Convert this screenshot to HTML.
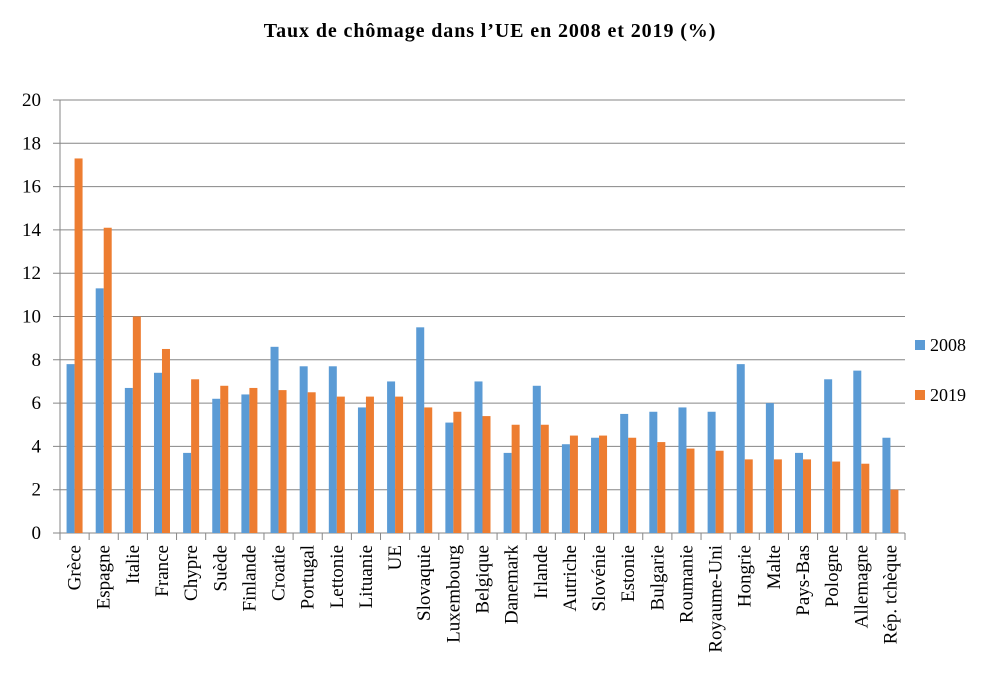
<!DOCTYPE html>
<html><head><meta charset="utf-8"><style>
body{margin:0;background:#fff;}
svg{display:block;font-family:"Liberation Serif",serif;}
</style></head><body>
<svg id="chart" width="981" height="697" xmlns="http://www.w3.org/2000/svg">
<text x="490" y="37" text-anchor="middle" font-size="20" font-weight="bold" letter-spacing="0.9">Taux de chômage dans l’UE en 2008 et 2019 (%)</text>
<g id="grid"></g><g id="bars"></g><g id="labels"></g>
<g>
<rect x="915" y="340" width="10" height="10" fill="#5b9bd5"/>
<text x="930" y="351" font-size="18">2008</text>
<rect x="915" y="390" width="10" height="10" fill="#ed7d31"/>
<text x="930" y="401" font-size="18">2019</text>
</g>
</svg>
<script>
const categories=["Grèce","Espagne","Italie","France","Chypre","Suède","Finlande","Croatie","Portugal","Lettonie","Lituanie","UE","Slovaquie","Luxembourg","Belgique","Danemark","Irlande","Autriche","Slovénie","Estonie","Bulgarie","Roumanie","Royaume-Uni","Hongrie","Malte","Pays-Bas","Pologne","Allemagne","Rép. tchèque"];
const values2008=[7.8,11.3,6.7,7.4,3.7,6.2,6.4,8.6,7.7,7.7,5.8,7.0,9.5,5.1,7.0,3.7,6.8,4.1,4.4,5.5,5.6,5.8,5.6,7.8,6.0,3.7,7.1,7.5,4.4];
const values2019=[17.3,14.1,10.0,8.5,7.1,6.8,6.7,6.6,6.5,6.3,6.3,6.3,5.8,5.6,5.4,5.0,5.0,4.5,4.5,4.4,4.2,3.9,3.8,3.4,3.4,3.4,3.3,3.2,2.0];
const yTicks=[0,2,4,6,8,10,12,14,16,18,20];
const NS="http://www.w3.org/2000/svg";
const x0=60,x1=905,yTop=100,yBot=533,yMax=20;
const band=(x1-x0)/categories.length;
const y=v=>yBot-(v/yMax)*(yBot-yTop);
const xc=i=>x0+band*(i+0.5);
function mk(t,a,p){const e=document.createElementNS(NS,t);for(const k in a)e.setAttribute(k,a[k]);p.appendChild(e);return e;}
const grid=document.getElementById('grid'),bars=document.getElementById('bars'),labels=document.getElementById('labels');
yTicks.forEach(v=>{
 const l=mk('line',{x1:53,x2:x1,y1:y(v),y2:y(v),stroke:'#868686','stroke-width':1},grid);
 
 
 const t=mk('text',{x:41,y:y(v)+6,'text-anchor':'end','font-size':19},grid);
 t.textContent=v;
 
 
});
const ax=mk('line',{x1:x0,x2:x0,y1:yTop,y2:yBot,stroke:'#868686'},grid);


for(let i=0;i<=categories.length;i++){
 const tk=mk('line',{x1:x0+band*i,x2:x0+band*i,y1:yBot,y2:yBot+7,stroke:'#868686'},grid);
 
 
}
const bw=8;
categories.forEach((c,i)=>{
 const a=mk('rect',{x:xc(i)-bw,y:y(values2008[i]),width:bw,height:yBot-y(values2008[i]),fill:'#5b9bd5'},bars);
 
 
 const b=mk('rect',{x:xc(i),y:y(values2019[i]),width:bw,height:yBot-y(values2019[i]),fill:'#ed7d31'},bars);
 
 
 const t=mk('text',{x:0,y:0,'text-anchor':'end','font-size':19,transform:`translate(${xc(i)+6},545) rotate(-90)`},labels);
 t.textContent=c;
 
 
});
</script>
</body></html>
